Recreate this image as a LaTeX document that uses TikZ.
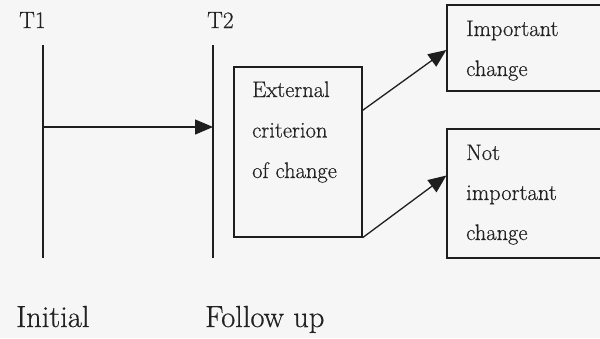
\documentclass[tikz,border=0pt]{standalone}
\usepackage{fontspec}
\setmainfont{Latin Modern Roman}[FakeBold=0.5]
\usetikzlibrary{arrows.meta,calc}
\definecolor{ink}{RGB}{30,30,30}
\definecolor{txt}{RGB}{35,35,35}
\definecolor{paper}{RGB}{246,246,246}
\tikzset{
  rule/.style={draw=ink, line width=1.3pt},
  arr/.style={rule, -{Triangle[length=18pt,width=15pt]}},
  box/.style={draw=ink, line width=1.3pt, rectangle, inner sep=0pt},
  boxtext/.style={anchor=base west, inner sep=0pt, text=txt, font=\fontsize{22.5}{26}\selectfont},
  timelabel/.style={anchor=base west, inner sep=0pt, text=txt, font=\fontsize{23.5}{28}\selectfont},
  phaselabel/.style={anchor=base west, inner sep=0pt, text=txt, font=\fontsize{30.5}{36}\selectfont},
}
\begin{document}
\begin{tikzpicture}[x=1pt,y=-1pt]
  \useasboundingbox (0,0) rectangle (600,338);
  \fill[paper] (0,0) rectangle (600,338);
  \clip (0,0) rectangle (600,338);

  % time points
  \node[timelabel] (t1) at (19,28) {T1};
  \node[timelabel] (t2) at (207,28) {T2};
  \coordinate (t1top) at (43,45);
  \coordinate (t1bot) at (43,258);
  \coordinate (t2top) at (213,45);
  \coordinate (t2bot) at (213,258);
  \draw[rule] (t1top) -- (t1bot);
  \draw[rule] (t2top) -- (t2bot);
  \draw[arr] ($(t1top)+(0,82)$) -- ($(t2top)+(0,82)$);

  % criterion box
  \node[box, minimum width=128pt, minimum height=170pt] (ext) at (298,152) {};
  \node[boxtext] (e1) at (252,97) {External};
  \node[boxtext] (e2) at (252,137.5) {criterion};
  \node[boxtext] (e3) at (252,178) {of change};

  % outcome boxes (running past the right edge)
  \node[box, minimum width=173pt, minimum height=86pt] (imp) at (533.5,48) {};
  \node[boxtext] (i1) at (466,36) {Important};
  \node[boxtext] (i2) at (466,76) {change};

  \node[box, minimum width=173pt, minimum height=129pt] (notimp) at (533.5,193.5) {};
  \node[boxtext] (n1) at (466,160) {Not};
  \node[boxtext] (n2) at (466,200) {important};
  \node[boxtext] (n3) at (466,240) {change};

  \draw[arr] ($(ext.north east)+(0,44)$) -- ($(imp.west)+(0,2)$);
  \draw[arr] (ext.south east) -- ($(notimp.west)+(0,-18)$);

  % phases
  \node[phaselabel] (init) at (16,327) {Initial};
  \node[phaselabel] (fu) at (205,327) {Follow up};
\end{tikzpicture}
\end{document}
